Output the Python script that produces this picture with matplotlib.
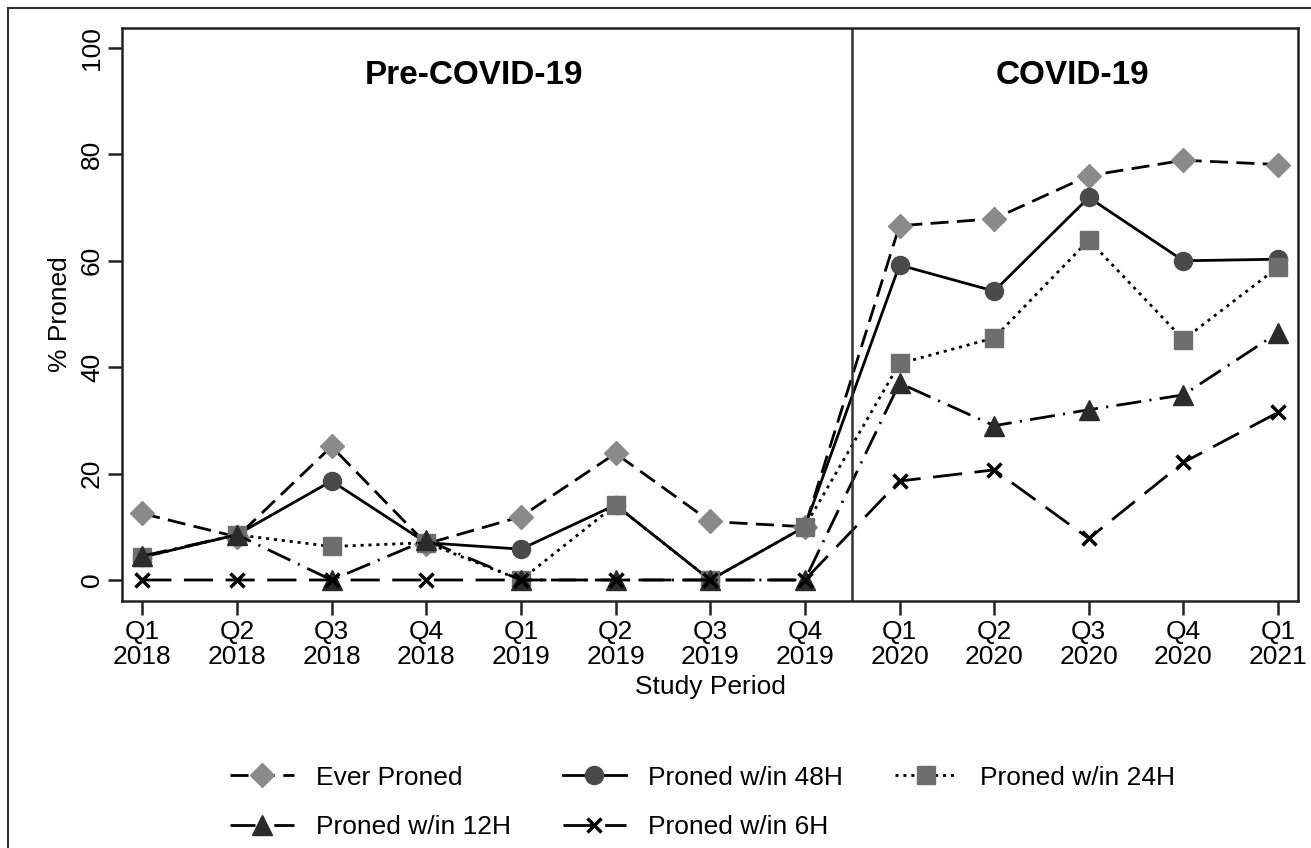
import matplotlib.pyplot as plt
import matplotlib.patches as mpatches

plt.rcParams['font.family'] = ['Liberation Sans', 'DejaVu Sans']
plt.rcParams['lines.scale_dashes'] = False

quarters = ['Q1\n2018', 'Q2\n2018', 'Q3\n2018', 'Q4\n2018',
            'Q1\n2019', 'Q2\n2019', 'Q3\n2019', 'Q4\n2019',
            'Q1\n2020', 'Q2\n2020', 'Q3\n2020', 'Q4\n2020', 'Q1\n2021']

ever_proned = [12.5, 8.1, 25.1, 6.8, 11.9, 23.8, 11.0, 10.0, 66.6, 67.9, 76.0, 78.9, 78.1]
proned_48h = [4.3, 8.5, 18.6, 7.0, 5.8, 14.1, 0.0, 10.0, 59.2, 54.3, 71.9, 60.0, 60.3]
proned_24h = [4.3, 8.5, 6.3, 7.0, 0.0, 14.1, 0.0, 10.0, 40.7, 45.5, 63.9, 45.2, 58.8]
proned_12h = [4.5, 8.5, 0.0, 7.5, 0.0, 0.0, 0.0, 0.0, 37.0, 29.0, 32.0, 34.8, 46.5]
proned_6h = [0.0, 0.0, 0.0, 0.0, 0.0, 0.0, 0.0, 0.0, 18.6, 20.7, 7.8, 22.1, 31.5]

x = list(range(len(quarters)))

fig = plt.figure(figsize=(13.11, 8.48), dpi=100)
ax = fig.add_axes([122 / 1311, 1 - 601 / 848, (1298 - 122) / 1311, (601 - 28) / 848])

# outer frame (cropped on the right and bottom in the original)
fig.patches.append(mpatches.Rectangle((8 / 1311, -0.1), 1.2, 1 - 8 / 848 + 0.1,
                                      transform=fig.transFigure, fill=False,
                                      edgecolor='#333333', linewidth=1.5))

lw = 2.0
l1, = ax.plot(x, ever_proned, color='black', lw=lw, dashes=(13, 6),
              marker='D', ms=12.5, mfc='#8a8a8a', mec='#8a8a8a', label='Ever Proned')
l2, = ax.plot(x, proned_48h, color='black', lw=lw, linestyle='-',
              marker='o', ms=13, mfc='#4a4a4a', mec='#4a4a4a', label='Proned w/in 48H')
l3, = ax.plot(x, proned_24h, color='black', lw=lw, dashes=(2.2, 3.5),
              marker='s', ms=13, mfc='#6e6e6e', mec='#6e6e6e', label='Proned w/in 24H')
l4, = ax.plot(x, proned_12h, color='black', lw=lw, dashes=(18, 6, 1.5, 6),
              marker='^', ms=15, mfc='#2b2b2b', mec='#2b2b2b', label='Proned w/in 12H')
l5, = ax.plot(x, proned_6h, color='black', lw=lw, dashes=(21, 9),
              marker='x', ms=9.5, mew=2.5, mec='black', label='Proned w/in 6H')

ax.axvline(7.5, color='#333333', lw=1.8)

ax.text(3.5, 94.9, 'Pre-COVID-19', ha='center', va='center',
        fontsize=24, fontweight='bold')
ax.text(9.83, 94.9, 'COVID-19', ha='center', va='center',
        fontsize=24, fontweight='bold')

ax.set_xlim(-0.214, 12.21)
ax.set_ylim(-3.95, 103.76)
ax.set_xticks(x)
ax.set_xticklabels(quarters, fontsize=19, linespacing=1.05)
ax.set_yticks([0, 20, 40, 60, 80, 100])
ax.set_yticklabels(['0', '20', '40', '60', '80', '100'], fontsize=19,
                   rotation=90, va='center')
ax.tick_params(axis='both', direction='out', length=10, width=1.8, color='#222222')
ax.tick_params(axis='x', pad=4)
ax.tick_params(axis='y', pad=3)
for s in ax.spines.values():
    s.set_linewidth(1.8)
    s.set_color('#222222')

ax.set_xlabel('Study Period', fontsize=19, labelpad=4)
ax.set_ylabel('% Proned', fontsize=19, labelpad=6)

handles = [l1, l4, l2, l5, l3]
fig.legend(handles=handles, labels=[h.get_label() for h in handles],
           loc='center', bbox_to_anchor=(0.536, 0.054), ncol=3, frameon=False,
           fontsize=19, handlelength=2.4, handletextpad=0.83,
           columnspacing=1.97, labelspacing=0.95, numpoints=1)

fig.savefig('out.png', dpi=100)
